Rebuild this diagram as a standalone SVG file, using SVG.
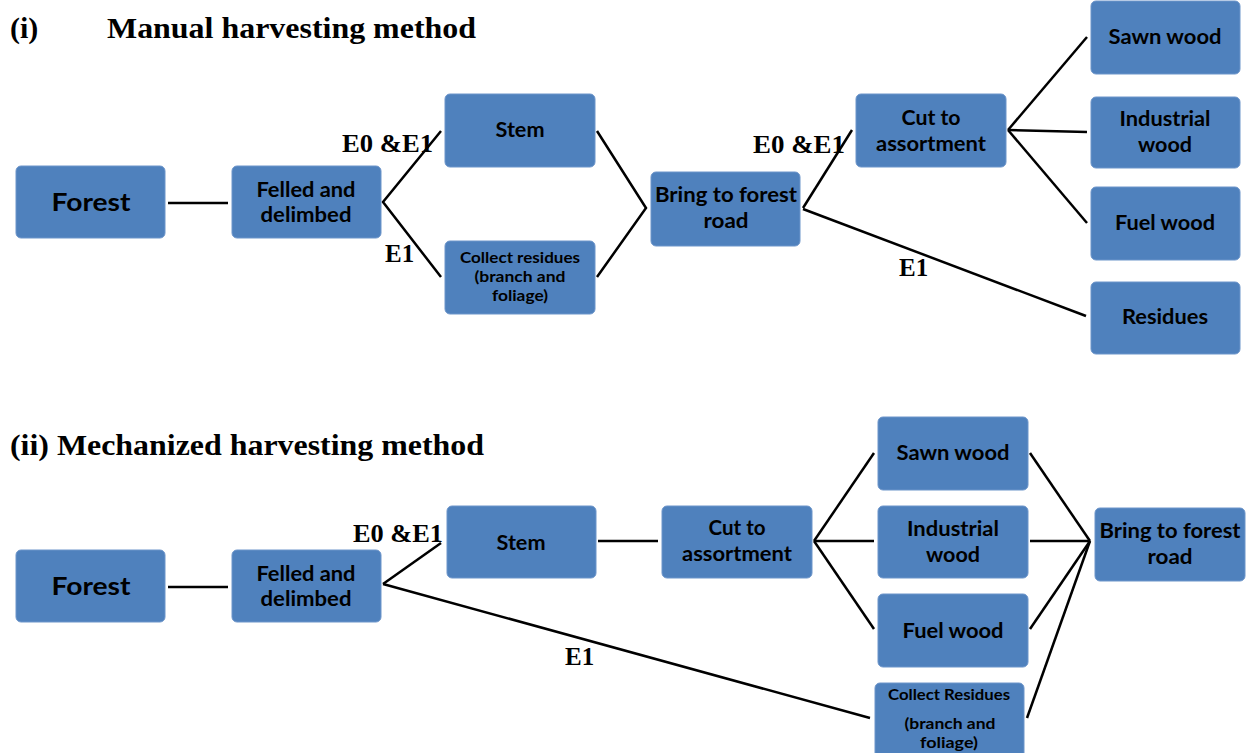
<svg xmlns="http://www.w3.org/2000/svg" width="1250" height="753" viewBox="0 0 1250 753">
<style>
.box{fill:#4F81BD;stroke:#6D95CA;stroke-width:1}
.t{font-family:Lato,"Open Sans","Liberation Sans",sans-serif;font-weight:700;fill:#000;text-anchor:middle}
.ttl{font-family:"Liberation Serif","Times New Roman",serif;font-weight:700;fill:#000;font-size:30px}
.lbl{font-family:"Liberation Serif","Times New Roman",serif;font-weight:700;fill:#000;font-size:25px}
.c{stroke:#000;stroke-width:2.5;fill:none}
</style>
<rect width="1250" height="753" fill="#fff"/>
<g id="titles">
<text class="ttl" x="10" y="38">(i)</text>
<text class="ttl" x="107" y="38" textLength="369" lengthAdjust="spacingAndGlyphs">Manual harvesting method</text>
<text class="ttl" x="10" y="455" textLength="474" lengthAdjust="spacingAndGlyphs">(ii) Mechanized harvesting method</text>
</g>
<g id="connectors">
<line class="c" x1="168" y1="203" x2="228" y2="203"/>
<polyline class="c" points="441,131 383,202 441,277"/>
<polyline class="c" points="597,131 646,208 597,277"/>
<line class="c" x1="803" y1="208" x2="852" y2="130"/>
<line class="c" x1="803" y1="209" x2="1086" y2="316"/>
<line class="c" x1="1008" y1="130" x2="1087" y2="37"/>
<line class="c" x1="1008" y1="130" x2="1087" y2="132"/>
<line class="c" x1="1008" y1="130" x2="1087" y2="223"/>
<line class="c" x1="168" y1="587" x2="228" y2="587"/>
<line class="c" x1="383" y1="584" x2="441" y2="543"/>
<line class="c" x1="383" y1="584" x2="870" y2="718"/>
<line class="c" x1="598" y1="541" x2="658" y2="541"/>
<line class="c" x1="814" y1="541" x2="874" y2="453"/>
<line class="c" x1="814" y1="541" x2="874" y2="541"/>
<line class="c" x1="814" y1="541" x2="874" y2="629"/>
<line class="c" x1="1030" y1="453" x2="1090" y2="541"/>
<line class="c" x1="1030" y1="541" x2="1090" y2="541"/>
<line class="c" x1="1030" y1="629" x2="1090" y2="541"/>
<line class="c" x1="1027" y1="718" x2="1090" y2="541"/>
</g>
<g id="edge-labels">
<text class="lbl" x="342" y="152" textLength="91" lengthAdjust="spacingAndGlyphs">E0 &amp;E1</text>
<text class="lbl" x="385" y="262">E1</text>
<text class="lbl" x="753" y="153" textLength="92" lengthAdjust="spacingAndGlyphs">E0 &amp;E1</text>
<text class="lbl" x="899" y="276">E1</text>
<text class="lbl" x="353" y="542" textLength="90" lengthAdjust="spacingAndGlyphs">E0 &amp;E1</text>
<text class="lbl" x="565" y="665">E1</text>
</g>
<g id="m-forest"><rect class="box" x="16" y="166" width="149" height="72" rx="5"/><text class="t" x="91" y="211" font-size="25" textLength="79" lengthAdjust="spacingAndGlyphs">Forest</text></g>
<g id="m-felled"><rect class="box" x="232" y="166" width="149" height="72" rx="5"/><text class="t" x="306" y="197" font-size="21" textLength="99" lengthAdjust="spacingAndGlyphs">Felled and</text><text class="t" x="306" y="222" font-size="21" textLength="91" lengthAdjust="spacingAndGlyphs">delimbed</text></g>
<g id="m-stem"><rect class="box" x="445" y="94" width="150" height="73" rx="5"/><text class="t" x="520" y="137" font-size="21" textLength="49" lengthAdjust="spacingAndGlyphs">Stem</text></g>
<g id="m-collect"><rect class="box" x="445" y="241" width="150" height="73" rx="5"/><text class="t" x="520" y="263" font-size="15" textLength="120" lengthAdjust="spacingAndGlyphs">Collect residues</text><text class="t" x="520" y="282" font-size="15" textLength="91" lengthAdjust="spacingAndGlyphs">(branch and</text><text class="t" x="520" y="301" font-size="15" textLength="56" lengthAdjust="spacingAndGlyphs">foliage)</text></g>
<g id="m-bring"><rect class="box" x="651" y="172" width="149" height="74" rx="5"/><text class="t" x="726" y="202" font-size="21" textLength="142" lengthAdjust="spacingAndGlyphs">Bring to forest</text><text class="t" x="726" y="228" font-size="21" textLength="45" lengthAdjust="spacingAndGlyphs">road</text></g>
<g id="m-cut"><rect class="box" x="856" y="94" width="150" height="73" rx="5"/><text class="t" x="931" y="125" font-size="21" textLength="59" lengthAdjust="spacingAndGlyphs">Cut to</text><text class="t" x="931" y="151" font-size="21" textLength="110" lengthAdjust="spacingAndGlyphs">assortment</text></g>
<g id="m-sawn"><rect class="box" x="1091" y="1" width="149" height="73" rx="5"/><text class="t" x="1165" y="44" font-size="21" textLength="113" lengthAdjust="spacingAndGlyphs">Sawn wood</text></g>
<g id="m-industrial"><rect class="box" x="1091" y="97" width="149" height="71" rx="5"/><text class="t" x="1165" y="126" font-size="21" textLength="91" lengthAdjust="spacingAndGlyphs">Industrial</text><text class="t" x="1165" y="152" font-size="21" textLength="54" lengthAdjust="spacingAndGlyphs">wood</text></g>
<g id="m-fuel"><rect class="box" x="1091" y="187" width="149" height="73" rx="5"/><text class="t" x="1165" y="230" font-size="21" textLength="100" lengthAdjust="spacingAndGlyphs">Fuel wood</text></g>
<g id="m-residues"><rect class="box" x="1091" y="282" width="149" height="72" rx="5"/><text class="t" x="1165" y="324" font-size="21" textLength="86" lengthAdjust="spacingAndGlyphs">Residues</text></g>
<g id="z-forest"><rect class="box" x="16" y="550" width="149" height="72" rx="5"/><text class="t" x="91" y="595" font-size="25" textLength="79" lengthAdjust="spacingAndGlyphs">Forest</text></g>
<g id="z-felled"><rect class="box" x="232" y="550" width="149" height="72" rx="5"/><text class="t" x="306" y="581" font-size="21" textLength="99" lengthAdjust="spacingAndGlyphs">Felled and</text><text class="t" x="306" y="606" font-size="21" textLength="91" lengthAdjust="spacingAndGlyphs">delimbed</text></g>
<g id="z-stem"><rect class="box" x="447" y="506" width="149" height="72" rx="5"/><text class="t" x="521" y="550" font-size="21" textLength="49" lengthAdjust="spacingAndGlyphs">Stem</text></g>
<g id="z-cut"><rect class="box" x="662" y="506" width="150" height="72" rx="5"/><text class="t" x="737" y="535" font-size="21" textLength="57" lengthAdjust="spacingAndGlyphs">Cut to</text><text class="t" x="737" y="561" font-size="21" textLength="110" lengthAdjust="spacingAndGlyphs">assortment</text></g>
<g id="z-sawn"><rect class="box" x="878" y="417" width="150" height="73" rx="5"/><text class="t" x="953" y="460" font-size="21" textLength="113" lengthAdjust="spacingAndGlyphs">Sawn wood</text></g>
<g id="z-industrial"><rect class="box" x="878" y="506" width="150" height="72" rx="5"/><text class="t" x="953" y="536" font-size="21" textLength="92" lengthAdjust="spacingAndGlyphs">Industrial</text><text class="t" x="953" y="562" font-size="21" textLength="54" lengthAdjust="spacingAndGlyphs">wood</text></g>
<g id="z-fuel"><rect class="box" x="878" y="594" width="150" height="73" rx="5"/><text class="t" x="953" y="638" font-size="21" textLength="101" lengthAdjust="spacingAndGlyphs">Fuel wood</text></g>
<g id="z-collect"><rect class="box" x="875" y="683" width="149" height="80" rx="5"/><text class="t" x="949" y="700" font-size="15" textLength="122" lengthAdjust="spacingAndGlyphs">Collect Residues</text><text class="t" x="950" y="729" font-size="15" textLength="91" lengthAdjust="spacingAndGlyphs">(branch and</text><text class="t" x="949" y="748" font-size="15" textLength="58" lengthAdjust="spacingAndGlyphs">foliage)</text></g>
<g id="z-bring"><rect class="box" x="1095" y="508" width="150" height="73" rx="5"/><text class="t" x="1170" y="538" font-size="21" textLength="141" lengthAdjust="spacingAndGlyphs">Bring to forest</text><text class="t" x="1170" y="564" font-size="21" textLength="45" lengthAdjust="spacingAndGlyphs">road</text></g>
</svg>
